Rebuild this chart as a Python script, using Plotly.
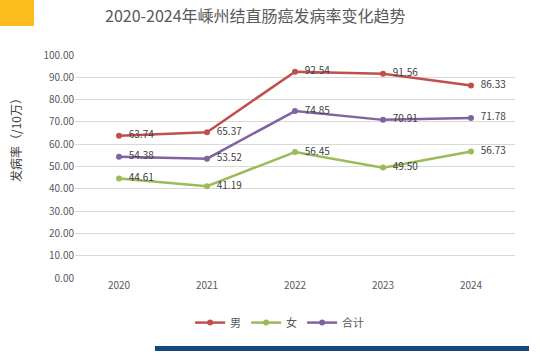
import plotly.graph_objects as go

years = ["2020", "2021", "2022", "2023", "2024"]
male = [63.74, 65.37, 92.54, 91.56, 86.33]
female = [44.61, 41.19, 56.45, 49.50, 56.73]
total = [54.38, 53.52, 74.85, 70.91, 71.78]
series_names = ["男", "女", "合计"]
colors = ["#C0504D", "#9BBB59", "#8064A2"]
y_ticks = [0, 10, 20, 30, 40, 50, 60, 70, 80, 90, 100]

FONT = "Noto Sans CJK SC"
fig = go.Figure()
for name, vals, c in zip(series_names, [male, female, total], colors):
    fig.add_trace(go.Scatter(
        x=years, y=vals, name=name, mode="lines+markers+text",
        line=dict(color=c, width=2.5), marker=dict(color=c, size=6),
        text=[f"\u2002{v:.2f}" for v in vals], textposition="middle right",
        textfont=dict(size=10, color="#404040", family=FONT),
        cliponaxis=False, hoverinfo="skip",
    ))

fig.update_layout(
    width=540, height=361,
    margin=dict(l=75, r=25, t=55, b=83),
    paper_bgcolor="white", plot_bgcolor="white",
    font=dict(family=FONT, size=10, color="#595959"),
    showlegend=True, hovermode=False,
    legend=dict(orientation="h", x=0.465, xanchor="center", y=-0.2, yanchor="middle",
                font=dict(size=11, color="#595959"), itemwidth=30, tracegroupgap=0),
    xaxis=dict(type="category", range=[-0.5, 4.5], showgrid=False, zeroline=False,
               showline=False, ticks="", tickfont=dict(size=10, color="#595959")),
    yaxis=dict(range=[0, 100], tickvals=y_ticks, tickformat=".2f",
               showgrid=True, gridcolor="#D9D9D9", gridwidth=1, zeroline=False,
               showline=False, ticks="", tickfont=dict(size=10, color="#595959")),
    shapes=[
        dict(type="rect", xref="paper", yref="paper", x0=-75/440, x1=(34-75)/440,
             y0=1 + 29/223, y1=1 + 55/223, fillcolor="#FBBC1E", line=dict(width=0), layer="below"),
        dict(type="rect", xref="paper", yref="paper", x0=(155-75)/440, x1=(529-75)/440,
             y0=-(346-278)/223, y1=-(351-278)/223, fillcolor="#17477F", line=dict(width=0), layer="below"),
    ],
    annotations=[
        dict(text="2020-2024年嵊州结直肠癌发病率变化趋势", xref="paper", yref="paper",
             x=(255-75)/440, y=1 + 40/223, xanchor="center", yanchor="middle",
             showarrow=False, font=dict(size=16, color="#595959", family=FONT)),
        dict(text="发病率（/10万）", xref="paper", yref="paper", textangle=-90,
             x=-60/440, y=(278-137)/223, xanchor="center", yanchor="middle",
             showarrow=False, font=dict(size=12, color="#404040", family=FONT)),
    ],
)
fig.write_html("out.html", config={"displayModeBar": False, "staticPlot": True},
               post_script="document.body.style.margin='0';")
